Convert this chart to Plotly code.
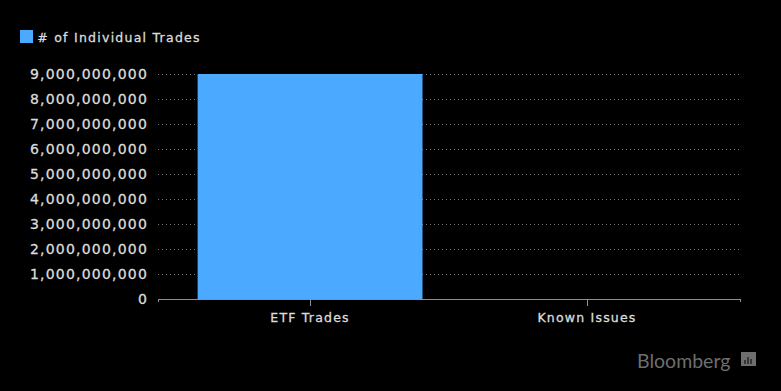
import plotly.graph_objects as go

categories = ["ETF Trades", "Known Issues"]
series_name = "# of Individual Trades"
values = [9000000000, 0]
y_ticks = [0, 1e9, 2e9, 3e9, 4e9, 5e9, 6e9, 7e9, 8e9, 9e9]

W, H = 781, 391
L, R, T, B = 158, 741, 71, 299
BLUE = "#4baaff"
TEXT = "#dcdcdc"
FONT = "DejaVu Sans"
Y_MAX = 9.12e9


def px(x):
    return (x - L) / (R - L)


def py(y):
    return (B - y) / (B - T)


fig = go.Figure(go.Bar(x=categories, y=values, name=series_name, width=0.812,
                       marker=dict(color=BLUE, line=dict(width=0)), showlegend=False))

shapes = [
    dict(type="rect", xref="paper", yref="paper", x0=px(20), x1=px(33), y0=py(43), y1=py(30),
         fillcolor=BLUE, line=dict(width=0)),
    dict(type="line", xref="paper", yref="paper", x0=px(158.5), x1=px(158.5), y0=py(299), y1=py(302),
         line=dict(color="#8c9099", width=1)),
    dict(type="line", xref="paper", yref="paper", x0=px(740.5), x1=px(740.5), y0=py(299), y1=py(302),
         line=dict(color="#8c9099", width=1)),
    dict(type="rect", xref="paper", yref="paper", x0=px(741), x1=px(756), y0=py(366), y1=py(352),
         fillcolor="#6e6e6e", line=dict(width=0)),
]
for bx, top in [(745, 360), (748, 357), (751, 359)]:
    shapes.append(dict(type="line", xref="paper", yref="paper", x0=px(bx), x1=px(bx), y0=py(364), y1=py(top),
                       line=dict(color="#000000", width=1)))

fig.update_layout(
    width=W, height=H, autosize=False,
    paper_bgcolor="#000000", plot_bgcolor="#000000",
    margin=dict(l=L, r=W - R, t=T, b=H - B, pad=0),
    font=dict(family=FONT, size=13, color=TEXT),
    showlegend=False,
    shapes=shapes,
    annotations=[
        dict(text=series_name, xref="paper", yref="paper", x=px(38), y=py(37), xanchor="left", yanchor="middle",
             showarrow=False, xshift=11, yshift=-1, font=dict(family=FONT, size=12.5, color=TEXT)),
        dict(text="Bloomberg", xref="paper", yref="paper", x=px(636), y=py(360), xanchor="left", yanchor="middle",
             showarrow=False, xshift=-1, font=dict(family="Lato", size=19.5, color="#6e6e6e")),
    ],
    xaxis=dict(type="category", range=[-0.549, 1.556], showgrid=False, showline=True, linecolor="#8c9099",
               linewidth=1, ticks="outside", ticklen=6, tickcolor="#8c9099", tickwidth=1, ticklabelstandoff=1,
               tickfont=dict(family=FONT, size=12.5, color=TEXT)),
    yaxis=dict(range=[0, Y_MAX], tickvals=y_ticks, tickformat=",d", showgrid=True, griddash="1px,3px",
               gridcolor="#777777", gridwidth=1, zeroline=False, showline=False, ticks="", ticklabelstandoff=9,
               tickfont=dict(family=FONT, size=14, color=TEXT)),
)

css = """
var s=document.createElement('style');
s.textContent='html,body{margin:0;padding:0;background:#000}.xtick text,.ytick text{letter-spacing:1.2px;stroke:#dcdcdc;stroke-width:0.3px}.annotation[data-index="0"] .annotation-text{letter-spacing:1.25px;stroke:#dcdcdc;stroke-width:0.3px}';
document.head.appendChild(s);
"""
fig.write_html("out.html", post_script=css, config={"displayModeBar": False})
